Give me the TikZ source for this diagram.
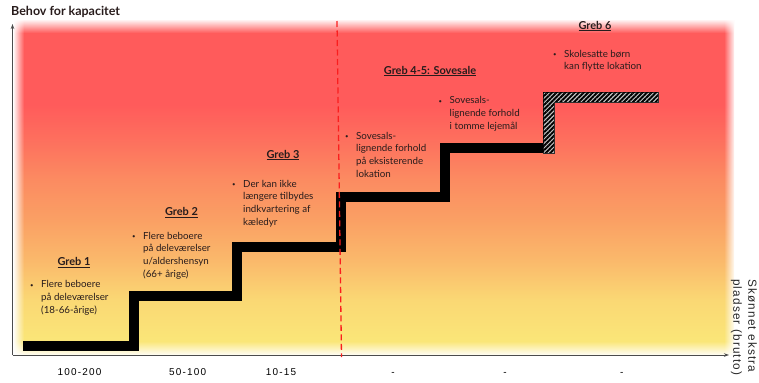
\documentclass[tikz,border=0pt]{standalone}
\usepackage{fontspec}
\setmainfont{Lato}
\newfontfamily\axisfont[LetterSpace=12]{Liberation Sans}
\newfontfamily\sidefont[LetterSpace=10]{Liberation Sans}
\usetikzlibrary{arrows.meta,positioning,calc,fadings,patterns.meta}

\definecolor{hred}{RGB}{255,91,91}
\definecolor{hora}{RGB}{250,160,100}
\definecolor{hylw}{RGB}{250,230,120}
\definecolor{cutred}{RGB}{250,30,30}
\definecolor{ink}{RGB}{40,28,28}

% heat map behind the stairs, bottom (white) to top (red)
\pgfdeclareverticalshading{heat}{100bp}{
  color(0bp)=(white); color(25bp)=(white);
  color(26bp)=(hylw!45!white); color(27.2bp)=(hylw);
  color(33.3bp)=(hylw!80!hora); color(39.3bp)=(hylw!35!hora);
  color(45.2bp)=(hora); color(51.2bp)=(hora!70!hred);
  color(57.1bp)=(hora!30!hred); color(62.4bp)=(hred);
  color(75bp)=(hred); color(100bp)=(hred)}

% bullet with hanging lines
\newcommand{\pkt}[1]{\makebox[11bp][l]{\raisebox{0.5bp}{\fontsize{6}{6}\selectfont\textbullet}}%
  \begin{tabular}[t]{@{}l@{}}#1\end{tabular}}

\begin{document}
\begin{tikzpicture}[
  x=1bp, y=-1bp,
  title/.style={font=\bfseries\fontsize{12.5}{14}\selectfont, anchor=base west,
                inner sep=0pt, text=ink},
  greb/.style={font=\bfseries\fontsize{11}{13}\selectfont, anchor=base,
               inner sep=0pt, text=ink},
  pt/.style={font=\fontsize{9.8}{12.8}\selectfont, anchor=base west,
             inner sep=0pt, text=ink},
  tick/.style={font=\axisfont\fontsize{10}{12}\selectfont, anchor=base,
               inner sep=0pt, text=black},
  side/.style={font=\sidefont\fontsize{11.8}{15}\selectfont, align=left,
               rotate=-90, anchor=north west, inner sep=0pt, text=black!85},
  axis/.style={draw=black!70, line width=1pt, -{Stealth[length=5pt,width=3.5pt]}},
  stair/.style={draw=black, line width=10bp, line join=miter},
  hatch/.style={draw=black!80, line width=0.4pt, fill=gray!45,
                postaction={pattern={Lines[angle=45,distance=3.2bp,line width=1.9bp]},
                            pattern color=black}},
  cut/.style={draw=cutred, line width=1.3bp, dash pattern=on 6bp off 3.5bp},
]
\useasboundingbox (0,0) rectangle (759,382);

% background
\shade[shading=heat] (14,20) rectangle (734,356);
\fill[white, path fading=east] (13,20) rectangle (24,357);
\fill[white, path fading=west] (724,20) rectangle (735,357);
\fill[white, path fading=south] (13,19) rectangle (735,33);

% axes
\coordinate (o)    at (12.5,355);
\coordinate (ytop) at (12.5,24);
\coordinate (xend) at (729,355);
\draw[axis, line width=0.8pt] (o) -- (ytop);
\draw[axis] (o) -- (xend);

\node[title] (ylab) at (11,15.5) {Behov for kapacitet};
\node[side]  (xlab) at (757,279) {Skønnet ekstra\\pladser (brutto)};

% stairs
\draw[stair] (23,346) -- (134,346) -- (134,296) -- (237,296) -- (237,247)
  -- (341,247) -- (341,197) -- (445,197) -- (445,148) -- (543,148);
\draw[hatch] (543,153) -- (543,92) -- (658,92) -- (658,102) -- (554,102)
  -- (554,153) -- cycle;

% today / later
\draw[cut] (337,21) -- (341.5,357);

% steps
\node[greb] (g1)  at (74,265.5)  {\underline{Greb 1}};
\node[greb] (g2)  at (181.5,215.5) {\underline{Greb 2}};
\node[greb] (g3)  at (283,158)   {\underline{Greb 3}};
\node[greb] (g45) at (430,74)    {\underline{Greb 4-5: Sovesale}};
\node[greb] (g6)  at (595,29)    {\underline{Greb 6}};

\node[pt] (t1) at (30,287.5) {\pkt{Flere beboere\\på deleværelser\\(18-66-årige)}};
\node[pt] (t2) at (132,239)  {\pkt{Flere beboere\\på deleværelser\\u/aldershensyn\\(66+ årige)}};
\node[pt] (t3) at (232,187)  {\pkt{Der kan ikke\\længere tilbydes\\indkvartering af\\kæledyr}};
\node[pt] (t4) at (345,139)  {\pkt{Sovesals-\\lignende forhold\\på eksisterende\\lokation}};
\node[pt] (t5) at (438.5,103.5) {\pkt{Sovesals-\\lignende forhold\\i tomme lejemål}};
\node[pt] (t6) at (553,57)   {\pkt{Skolesatte børn\\kan flytte lokation}};

% x labels
\node[tick] (x1) at (79.5,375.7)  {100-200};
\node[tick] (x2) at (187.7,375.7) {50-100};
\node[tick] (x3) at (281,375.7)   {10-15};
\node[tick] (x4) at (393,375.7)   {-};
\node[tick] (x5) at (505,375.7)   {-};
\node[tick] (x6) at (621.7,375.7) {-};

\end{tikzpicture}
\end{document}
